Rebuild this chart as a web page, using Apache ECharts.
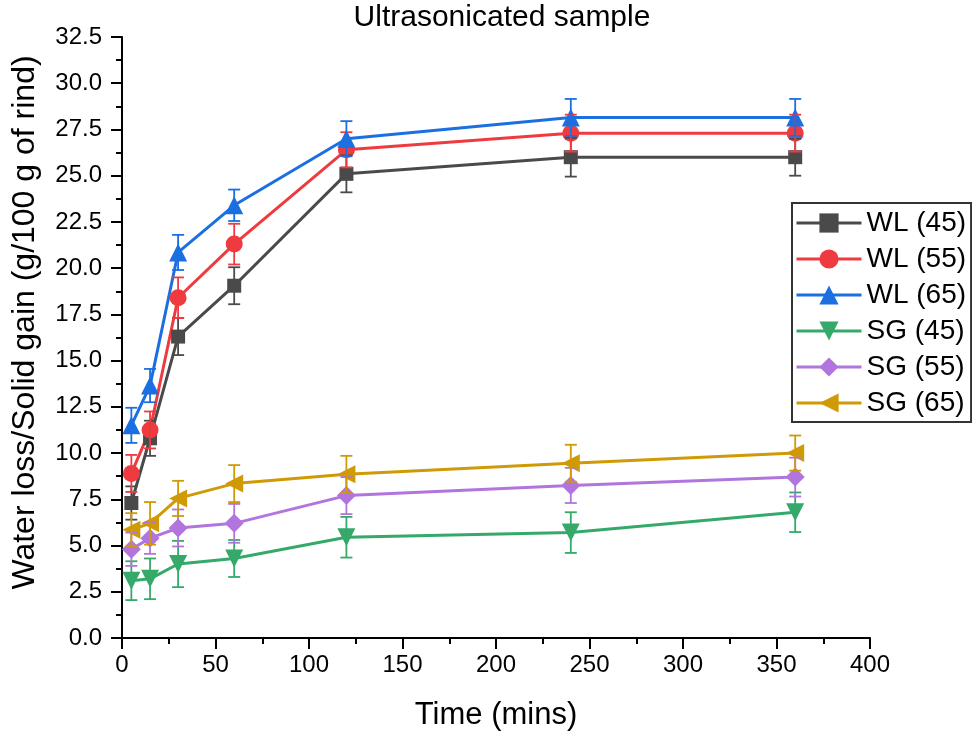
<!DOCTYPE html>
<html>
<head>
<meta charset="utf-8">
<script src="https://cdn.jsdelivr.net/npm/echarts@6/dist/echarts.min.js"></script>
<style>
html,body{margin:0;padding:0;background:#fff;}
#chart{width:972px;height:738px;}
</style>
</head>
<body>
<div id="chart"></div>
<script>
const times = [5, 15, 30, 60, 120, 240, 360];
const seriesNames = ['WL (45)', 'WL (55)', 'WL (65)', 'SG (45)', 'SG (55)', 'SG (65)'];
const wl45 = [7.3, 10.8, 16.3, 19.05, 25.1, 26.0, 26.0];
const wl45Err = [0.9, 0.95, 1.0, 1.0, 1.0, 1.05, 1.0];
const wl55 = [8.9, 11.25, 18.4, 21.3, 26.4, 27.3, 27.3];
const wl55Err = [1.0, 1.0, 1.1, 1.1, 0.95, 1.0, 1.0];
const wl65 = [11.5, 13.65, 20.85, 23.4, 27.0, 28.15, 28.15];
const wl65Err = [0.95, 0.9, 0.95, 0.85, 0.95, 1.0, 1.0];
const sg45 = [3.1, 3.2, 4.0, 4.3, 5.45, 5.7, 6.8];
const sg45Err = [1.05, 1.1, 1.25, 1.0, 1.1, 1.1, 1.07];
const sg55 = [4.8, 5.4, 5.95, 6.2, 7.7, 8.25, 8.7];
const sg55Err = [0.9, 0.85, 1.0, 1.05, 1.0, 0.95, 1.05];
const sg65 = [5.85, 6.2, 7.55, 8.35, 8.85, 9.45, 10.0];
const sg65Err = [0.9, 1.15, 0.95, 1.0, 1.0, 1.0, 0.95];

const values = [wl45, wl55, wl65, sg45, sg55, sg65];
const errors = [wl45Err, wl55Err, wl65Err, sg45Err, sg55Err, sg65Err];
const colors = ['#4a4a4a', '#ef3b3f', '#1b6fe0', '#35a96a', '#b275dd', '#cf9a05'];
const symbols = ['rect', 'circle', 'triangle', 'triangle', 'diamond', 'triangle'];
const rotations = [0, 0, 0, 180, 0, 90];
const sizes = [14, 17, 18, 18, 19, 18];

const FONT = 'Liberation Sans, Arial, sans-serif';

const series = [];
values.forEach((vals, i) => {
  series.push({
    name: seriesNames[i],
    type: 'line',
    data: times.map((t, j) => [t, vals[j]]),
    symbol: symbols[i],
    symbolRotate: rotations[i],
    symbolSize: sizes[i],
    showAllSymbol: true,
    color: colors[i],
    lineStyle: { width: 3, color: colors[i] },
    itemStyle: { color: colors[i] },
    z: 2
  });
});
values.forEach((vals, i) => {
  series.push({
    name: seriesNames[i],
    type: 'custom',
    data: times.map((t, j) => [t, vals[j] - errors[i][j], vals[j] + errors[i][j]]),
    z: 3,
    silent: true,
    renderItem: function (params, api) {
      const x = api.value(0);
      const lo = api.coord([x, api.value(1)]);
      const hi = api.coord([x, api.value(2)]);
      const hw = 6;
      const st = { stroke: colors[i], lineWidth: 1.8 };
      return {
        type: 'group',
        children: [
          { type: 'line', shape: { x1: lo[0], y1: lo[1], x2: hi[0], y2: hi[1] }, style: st },
          { type: 'line', shape: { x1: lo[0] - hw, y1: lo[1], x2: lo[0] + hw, y2: lo[1] }, style: st },
          { type: 'line', shape: { x1: hi[0] - hw, y1: hi[1], x2: hi[0] + hw, y2: hi[1] }, style: st }
        ]
      };
    }
  });
});

const chart = echarts.init(document.getElementById('chart'));
chart.setOption({
  animation: false,
  backgroundColor: '#fff',
  textStyle: { fontFamily: FONT },
  title: {
    text: 'Ultrasonicated sample',
    left: 497,
    textAlign: 'center',
    top: 0,
    padding: [3, 5, 5, 5],
    textStyle: { fontSize: 30, fontWeight: 'normal', color: '#000', fontFamily: FONT }
  },
  grid: { left: 122, right: 102, top: 37, bottom: 100, containLabel: false },
  legend: {
    data: seriesNames,
    orient: 'vertical',
    left: 792,
    top: 203,
    padding: [6, 5, 5, 3],
    itemGap: 8,
    itemWidth: 65,
    itemHeight: 24,
    borderColor: '#333',
    borderWidth: 2,
    lineStyle: { width: 3 },
    textStyle: { fontSize: 28, color: '#000', fontFamily: FONT, lineHeight: 27 }
  },
  xAxis: {
    type: 'value',
    min: 0,
    max: 400,
    interval: 50,
    name: 'Time (mins)',
    nameLocation: 'middle',
    nameGap: 62,
    nameTextStyle: { fontSize: 31, color: '#000', fontFamily: FONT },
    axisLine: { show: true, onZero: false, lineStyle: { color: '#000', width: 2 } },
    axisTick: { show: true, inside: false, length: 11, lineStyle: { color: '#000', width: 2 } },
    minorTick: { show: true, splitNumber: 2, length: 6, lineStyle: { color: '#000', width: 2 } },
    axisLabel: { fontSize: 24, color: '#000', margin: 15, fontFamily: FONT },
    splitLine: { show: false }
  },
  yAxis: {
    type: 'value',
    min: 0,
    max: 32.5,
    interval: 2.5,
    name: 'Water loss/Solid gain (g/100 g of rind)',
    nameLocation: 'middle',
    nameGap: 81,
    nameTextStyle: { fontSize: 32, color: '#000', fontFamily: FONT, padding: [0, 0, 0, 30] },
    axisLine: { show: true, onZero: false, lineStyle: { color: '#000', width: 2 } },
    axisTick: { show: true, inside: false, length: 11, lineStyle: { color: '#000', width: 2 } },
    minorTick: { show: true, splitNumber: 2, length: 6, lineStyle: { color: '#000', width: 2 } },
    axisLabel: { fontSize: 24, color: '#000', margin: 20, fontFamily: FONT, formatter: v => v.toFixed(1) },
    splitLine: { show: false }
  },
  series: series
});
</script>
</body>
</html>
